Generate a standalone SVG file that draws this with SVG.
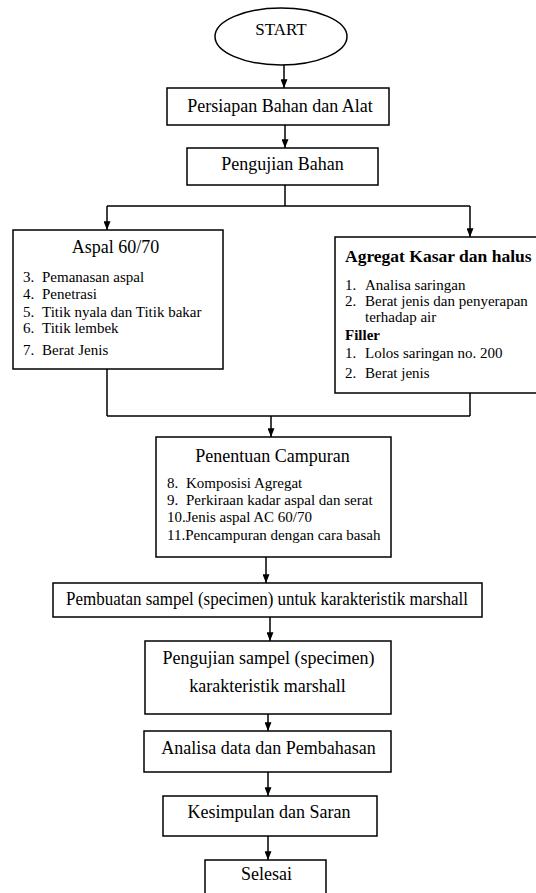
<svg xmlns="http://www.w3.org/2000/svg" width="536" height="893" viewBox="0 0 536 893">
<style>
  .box { fill: #fff; stroke: #000; stroke-width: 1.5; }
  text { font-family: 'Liberation Serif', 'DejaVu Serif', serif; font-size: 18px; fill: #000; }
  .c { text-anchor: middle; }
  .s { font-size: 15px; }
  .b { font-weight: bold; }
  .ln { fill: none; stroke: #000; stroke-width: 1.5; }
  .ar { fill: none; stroke: #000; stroke-width: 1.5; marker-end: url(#ah); }
</style>
<defs>
  <marker id="ah" viewBox="0 0 10 8" refX="10" refY="4" markerUnits="userSpaceOnUse" markerWidth="9" markerHeight="7" orient="auto">
    <path d="M0,0 L10,4 L0,8 z" fill="#000"/>
  </marker>
</defs>
<rect width="536" height="893" fill="#fff"/>

<g id="connectors">
  <path class="ar" d="M284,65 V88"/>
  <path class="ar" d="M285,125 V148"/>
  <path class="ln" d="M285,185 V206 M107,206 H470"/>
  <path class="ar" d="M107,206 V230"/>
  <path class="ar" d="M470,206 V237"/>
  <path class="ln" d="M107,369 V416 M470,393 V416 M107,416 H470"/>
  <path class="ar" d="M271,416 V437"/>
  <path class="ar" d="M266,557 V583"/>
  <path class="ar" d="M270,617 V641"/>
  <path class="ar" d="M268,714 V731"/>
  <path class="ar" d="M268,772 V796"/>
  <path class="ar" d="M268,836 V860"/>
</g>

<g font-family="Liberation Serif, serif">
<g id="start">
  <ellipse class="box" cx="281" cy="36.5" rx="66" ry="28.5"/>
  <text class="c" x="281" y="35" style="font-size:17px">START</text>
</g>

<g id="persiapan">
  <rect class="box" x="167" y="88" width="222" height="37"/>
  <text class="c" x="280" y="112">Persiapan Bahan dan Alat</text>
</g>

<g id="pengujian-bahan">
  <rect class="box" x="187" y="148" width="191" height="37"/>
  <text class="c" x="282.5" y="170">Pengujian Bahan</text>
</g>

<g id="aspal">
  <rect class="box" x="13" y="230" width="210" height="139"/>
  <text class="c" x="115.5" y="253">Aspal 60/70</text>
  <text class="s" x="23" y="282">3.</text><text class="s" x="42" y="282">Pemanasan aspal</text>
  <text class="s" x="23" y="299">4.</text><text class="s" x="42" y="299">Penetrasi</text>
  <text class="s" x="23" y="317">5.</text><text class="s" x="42" y="317">Titik nyala dan Titik bakar</text>
  <text class="s" x="23" y="333">6.</text><text class="s" x="42" y="333">Titik lembek</text>
  <text class="s" x="23" y="355">7.</text><text class="s" x="42" y="355">Berat Jenis</text>
</g>

<g id="agregat">
  <rect class="box" x="335" y="237" width="210" height="156"/>
  <text class="b" x="345" y="262" style="font-size:17.5px">Agregat Kasar dan halus</text>
  <text class="s" x="345" y="290">1.</text><text class="s" x="365" y="290">Analisa saringan</text>
  <text class="s" x="345" y="306">2.</text><text class="s" x="365" y="306">Berat jenis dan penyerapan</text>
  <text class="s" x="365" y="322">terhadap air</text>
  <text class="s b" x="345" y="340">Filler</text>
  <text class="s" x="345" y="358">1.</text><text class="s" x="365" y="358">Lolos saringan no. 200</text>
  <text class="s" x="345" y="378">2.</text><text class="s" x="365" y="378">Berat jenis</text>
</g>

<g id="penentuan">
  <rect class="box" x="156" y="437" width="235" height="120"/>
  <text class="c" x="272.5" y="462">Penentuan Campuran</text>
  <text class="s" x="167" y="488">8.</text><text class="s" x="186" y="488">Komposisi Agregat</text>
  <text class="s" x="167" y="505">9.</text><text class="s" x="186" y="505">Perkiraan kadar aspal dan serat</text>
  <text class="s" x="167" y="522">10.Jenis aspal AC 60/70</text>
  <text class="s" x="167" y="540">11.Pencampuran dengan cara basah</text>
</g>

<g id="pembuatan">
  <rect class="box" x="53" y="583" width="429" height="34"/>
  <text class="c" x="267" y="605" textLength="402" lengthAdjust="spacingAndGlyphs">Pembuatan sampel (specimen) untuk karakteristik marshall</text>
</g>

<g id="pengujian-sampel">
  <rect class="box" x="145" y="641" width="246" height="73"/>
  <text class="c" x="268.5" y="664">Pengujian sampel (specimen)</text>
  <text class="c" x="267.5" y="692">karakteristik marshall</text>
</g>

<g id="analisa">
  <rect class="box" x="144" y="731" width="247" height="41"/>
  <text class="c" x="268.5" y="754">Analisa data dan Pembahasan</text>
</g>

<g id="kesimpulan">
  <rect class="box" x="163" y="796" width="214" height="40"/>
  <text class="c" x="269" y="818">Kesimpulan dan Saran</text>
</g>

<g id="selesai">
  <rect class="box" x="205" y="860" width="121" height="50"/>
  <text class="c" x="266.5" y="880">Selesai</text>
</g>
</g>
</svg>
